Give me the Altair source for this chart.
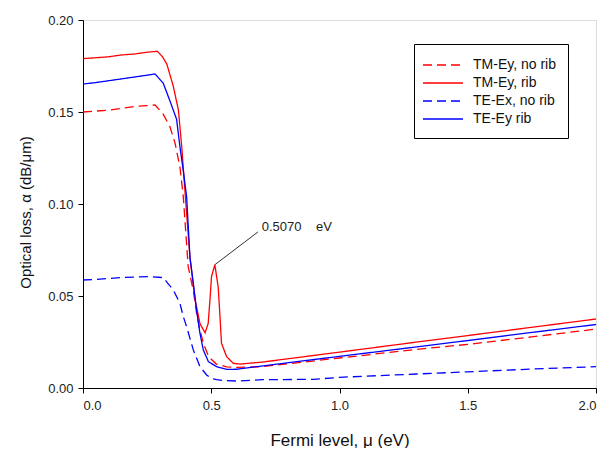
import altair as alt
import pandas as pd

# ---------------- data ----------------
series_names = ["TM-Ey, no rib", "TM-Ey, rib", "TE-Ex, no rib", "TE-Ey rib"]
series_colors = ["#ff0000", "#ff0000", "#0000ff", "#0000ff"]
series_dash = [[9, 5], [1, 0], [9, 5], [1, 0]]

# TM-Ey, no rib (red dashed)
tm_norib_x = [0.00, 0.05, 0.10, 0.15, 0.20, 0.25, 0.281, 0.312, 0.339, 0.359, 0.378, 0.391,
              0.41, 0.43, 0.443, 0.456, 0.47, 0.49, 0.52, 0.56, 0.60, 0.70, 1.00, 1.30, 1.50, 1.75, 2.00]
tm_norib_y = [0.150, 0.1505, 0.151, 0.152, 0.153, 0.1535, 0.1538, 0.149, 0.142, 0.133, 0.120, 0.104,
              0.066, 0.053, 0.0406, 0.0315, 0.024, 0.017, 0.013, 0.0115, 0.0112, 0.0116, 0.0163, 0.021, 0.0237, 0.0278, 0.032]

# TM-Ey, rib (red solid)
tm_rib_x = [0.00, 0.05, 0.10, 0.15, 0.20, 0.25, 0.29, 0.31, 0.327, 0.352, 0.372, 0.385, 0.398,
            0.417, 0.437, 0.456, 0.476, 0.488, 0.495, 0.501, 0.514, 0.527, 0.534, 0.54, 0.56, 0.586,
            0.612, 0.70, 1.00, 1.314, 1.50, 1.75, 2.00]
tm_rib_y = [0.179, 0.1795, 0.180, 0.181, 0.1815, 0.1825, 0.183, 0.180, 0.176, 0.164, 0.151, 0.131, 0.106,
            0.071, 0.048, 0.035, 0.030, 0.035, 0.048, 0.0605, 0.067, 0.055, 0.039, 0.0243, 0.017, 0.0134,
            0.013, 0.0141, 0.0195, 0.0252, 0.0285, 0.033, 0.0375]

# TE-Ex, no rib (blue dashed)
te_ex_x = [0.00, 0.05, 0.10, 0.15, 0.20, 0.26, 0.313, 0.33, 0.352, 0.378, 0.391, 0.404, 0.43, 0.456,
           0.482, 0.50, 0.521, 0.55, 0.60, 0.70, 0.90, 1.00, 1.30, 1.50, 1.75, 2.00]
te_ex_y = [0.0587, 0.059, 0.0595, 0.060, 0.0603, 0.0605, 0.0600, 0.057, 0.0533, 0.046, 0.0388, 0.0333, 0.0207, 0.0116,
           0.0071, 0.0053, 0.0045, 0.0040, 0.0038, 0.0045, 0.0047, 0.0058, 0.0076, 0.0088, 0.0103, 0.0116]

# TE-Ey rib (blue solid)
te_ey_x = [0.00, 0.05, 0.10, 0.15, 0.20, 0.25, 0.281, 0.313, 0.339, 0.365, 0.378, 0.391, 0.404,
           0.417, 0.43, 0.443, 0.456, 0.469, 0.489, 0.521, 0.56, 0.60, 0.70, 1.00, 1.275, 1.50, 1.75, 2.00]
te_ey_y = [0.1652, 0.166, 0.167, 0.168, 0.169, 0.170, 0.1707, 0.1656, 0.156, 0.146, 0.131, 0.118, 0.104,
           0.071, 0.057, 0.042, 0.0297, 0.0207, 0.0143, 0.0116, 0.0101, 0.0102, 0.012, 0.0172, 0.0219, 0.0258, 0.0302, 0.0345]

# annotation
ann_line_x = [0.514, 0.682]
ann_line_y = [0.067, 0.0848]
ann_text = ["0.5070\u00a0\u00a0\u00a0\u00a0eV"]
ann_text_x = [0.697]
ann_text_y = [0.0877]

x_ticks = [0.0, 0.5, 1.0, 1.5, 2.0]
y_ticks = [0.00, 0.05, 0.10, 0.15, 0.20]

# ---------------- build table ----------------
rows = []
for name, xs, ys in [
    (series_names[0], tm_norib_x, tm_norib_y),
    (series_names[1], tm_rib_x, tm_rib_y),
    (series_names[2], te_ex_x, te_ex_y),
    (series_names[3], te_ey_x, te_ey_y),
]:
    for xv, yv in zip(xs, ys):
        rows.append({"series": name, "x": xv, "y": yv})
df = pd.DataFrame(rows)

ann_line_df = pd.DataFrame({"x": ann_line_x, "y": ann_line_y})
ann_text_df = pd.DataFrame({"x": ann_text_x, "y": ann_text_y, "t": ann_text})

FONT = "Liberation Sans"

x_scale = alt.Scale(domain=[0, 2], nice=False, zero=False)
y_scale = alt.Scale(domain=[0, 0.2], nice=False, zero=False)

x_axis = alt.Axis(values=x_ticks, format=".1f", title="Fermi level, \u03bc (eV)",
                  grid=False, tickSize=5, labelPadding=6, labelFontSize=13,
                  titleFontSize=17, titleFontWeight="normal", titleY=52, titleBaseline="middle",
                  domainColor="black", tickColor="black", labelColor="#222222", titleColor="#111111")
y_axis = alt.Axis(values=y_ticks, format=".2f", title="Optical loss, \u03b1 (dB/\u03bcm)",
                  grid=False, tickSize=5, labelPadding=5, labelFontSize=13,
                  titleFontSize=15, titleFontWeight="normal", titleX=-58, titleY=192,
                  titleBaseline="middle",
                  domainColor="black", tickColor="black", labelColor="#222222", titleColor="#111111")

legend = alt.Legend(title=None, orient="none", legendX=331, legendY=24,
                    symbolType="M-2.5,0H2.5", symbolSize=256, symbolStrokeWidth=1.5, symbolOffset=8,
                    labelFontSize=14, labelOffset=21, rowPadding=2,
                    padding=12, strokeColor="black", fillColor="white",
                    labelColor="#111111", labelFont=FONT)

lines = alt.Chart(df).mark_line(strokeWidth=1.3, clip=True).encode(
    x=alt.X("x:Q", scale=x_scale, axis=x_axis),
    y=alt.Y("y:Q", scale=y_scale, axis=y_axis),
    color=alt.Color("series:N", scale=alt.Scale(domain=series_names, range=series_colors),
                    legend=legend),
    strokeDash=alt.StrokeDash("series:N", scale=alt.Scale(domain=series_names, range=series_dash),
                              legend=legend),
    order=alt.Order("x:Q"),
)

ann_line = alt.Chart(ann_line_df).mark_line(color="#333333", strokeWidth=1).encode(
    x=alt.X("x:Q", scale=x_scale),
    y=alt.Y("y:Q", scale=y_scale),
)

ann_label = alt.Chart(ann_text_df).mark_text(align="left", baseline="middle", fontSize=13,
                                              font=FONT, color="#222222").encode(
    x=alt.X("x:Q", scale=x_scale),
    y=alt.Y("y:Q", scale=y_scale),
    text="t:N",
)

chart = alt.layer(lines, ann_line, ann_label).properties(
    width=513, height=368,
    autosize=alt.AutoSizeParams(type="none"),
    padding={"left": 75, "top": 12, "right": 9, "bottom": 60},
).configure_view(stroke="black", strokeWidth=1).configure(
    font=FONT, background="white"
)

chart.save("out.html", embed_options={"renderer": "svg", "actions": False})
